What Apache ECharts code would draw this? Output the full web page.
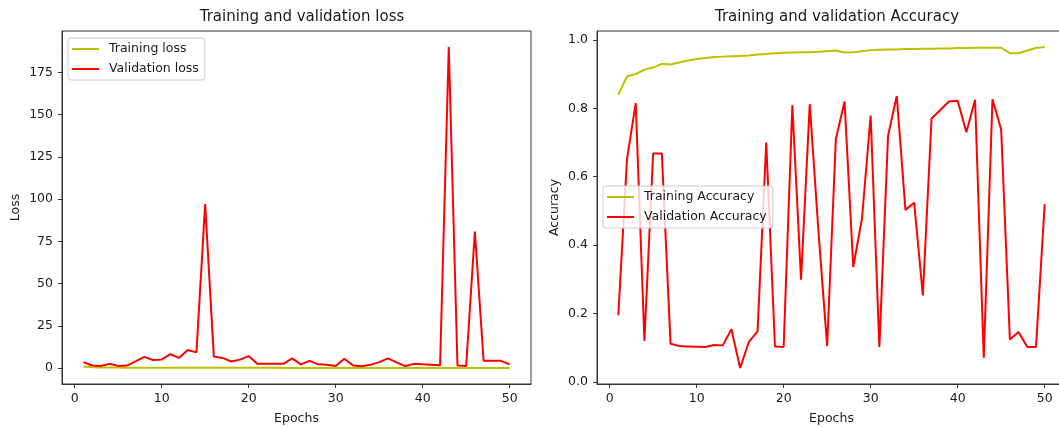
<!DOCTYPE html>
<html>
<head>
<meta charset="utf-8">
<script src="https://cdn.jsdelivr.net/npm/echarts@6/dist/echarts.min.js"></script>
<style>
  html, body { margin: 0; padding: 0; background: #fff; }
  #chart { width: 1059px; height: 427px; }
</style>
</head>
<body>
<div id="chart"></div>
<script>
var epochs = [];
for (var i = 1; i <= 50; i++) { epochs.push(i); }

var trainLoss = [0.9, 0.45, 0.35, 0.3, 0.27, 0.25, 0.23, 0.21, 0.2, 0.19,
  0.18, 0.17, 0.16, 0.16, 0.15, 0.15, 0.14, 0.14, 0.13, 0.13,
  0.12, 0.12, 0.12, 0.11, 0.11, 0.11, 0.11, 0.1, 0.1, 0.1,
  0.1, 0.09, 0.09, 0.09, 0.09, 0.09, 0.08, 0.08, 0.08, 0.08,
  0.08, 0.08, 0.07, 0.07, 0.07, 0.1, 0.09, 0.08, 0.07, 0.07];
var valLoss = [3.5, 1.5, 1.2, 2.5, 1.3, 1.5, 4.0, 6.6, 4.8, 5.0,
  8.2, 6.0, 10.7, 9.3, 97.0, 6.8, 6.0, 3.9, 5.0, 7.1,
  2.6, 2.5, 2.5, 2.5, 5.7, 2.2, 4.3, 2.2, 2.0, 1.2,
  5.5, 1.5, 1.1, 1.9, 3.5, 5.7, 3.4, 1.2, 2.5, 2.2,
  2.0, 1.6, 190.0, 1.5, 1.3, 80.8, 4.4, 4.4, 4.3, 2.2];
var trainAcc = [0.840, 0.893, 0.900, 0.913, 0.919, 0.930, 0.928, 0.934, 0.940, 0.944,
  0.947, 0.950, 0.951, 0.952, 0.953, 0.954, 0.957, 0.959, 0.961, 0.962,
  0.963, 0.964, 0.964, 0.965, 0.967, 0.969, 0.963, 0.964, 0.967, 0.970,
  0.971, 0.972, 0.972, 0.973, 0.973, 0.974, 0.974, 0.975, 0.975, 0.976,
  0.976, 0.977, 0.977, 0.977, 0.977, 0.961, 0.961, 0.969, 0.976, 0.979];
var valAcc = [0.195, 0.652, 0.815, 0.120, 0.668, 0.668, 0.112, 0.105, 0.104, 0.103,
  0.102, 0.108, 0.107, 0.154, 0.041, 0.117, 0.148, 0.700, 0.104, 0.102,
  0.809, 0.299, 0.812, 0.44, 0.105, 0.710, 0.820, 0.336, 0.477, 0.779,
  0.102, 0.720, 0.836, 0.503, 0.524, 0.253, 0.770, 0.795, 0.820, 0.822,
  0.730, 0.825, 0.071, 0.826, 0.738, 0.124, 0.146, 0.102, 0.102, 0.520];

var xTicks = [0, 10, 20, 30, 40, 50];
var lossTicks = [0, 25, 50, 75, 100, 125, 150, 175];
var accTicks = [0, 0.2, 0.4, 0.6, 0.8, 1.0];

var FONT = 'DejaVu Sans';
var INK = '#1a1a1a';
var FRAME = '#333';
var TRAIN_COLOR = '#bfbf00';
var VAL_COLOR = '#ff0000';
// plain line marker for the legend (tiny corner dots keep the 27x14 box)
var LINE_ICON = 'path://M0,0h0.01v0.01h-0.01zM0,6h27v2h-27zM26.99,13.99h0.01v0.01h-0.01z';

// matplotlib style 5% margins
function padded(arrs) {
  var all = [].concat.apply([], arrs);
  var lo = Math.min.apply(null, all), hi = Math.max.apply(null, all);
  var pad = (hi - lo) * 0.05;
  return [lo - pad, hi + pad];
}
function pairs(ys) {
  return epochs.map(function (e, k) { return [e, ys[k]]; });
}

var xRange = padded([epochs]);
var lossRange = padded([trainLoss, valLoss]);
var accRange = padded([trainAcc, valAcc]);

function xAxisFor(gi) {
  return {
    type: 'value', gridIndex: gi, min: xRange[0], max: xRange[1],
    name: 'Epochs', nameLocation: 'middle', nameGap: 28,
    nameTextStyle: { fontFamily: FONT, fontSize: 12.5, color: INK },
    axisLine: { show: true, onZero: false, lineStyle: { color: FRAME, width: 1 } },
    axisTick: { show: true, length: 4, lineStyle: { color: FRAME }, customValues: xTicks },
    axisLabel: { fontFamily: FONT, fontSize: 12.5, color: INK, margin: 8, customValues: xTicks },
    splitLine: { show: false }
  };
}
function yAxisFor(gi, name, range, ticks, gap, fmt) {
  return {
    type: 'value', gridIndex: gi, min: range[0], max: range[1],
    name: name, nameLocation: 'middle', nameGap: gap,
    nameTextStyle: { fontFamily: FONT, fontSize: 12.5, color: INK },
    axisLine: { show: true, onZero: false, lineStyle: { color: FRAME, width: 1 } },
    axisTick: { show: true, length: 4, lineStyle: { color: FRAME }, customValues: ticks },
    axisLabel: { fontFamily: FONT, fontSize: 12.5, color: INK, margin: 9, customValues: ticks, formatter: fmt },
    splitLine: { show: false }
  };
}
function legendFor(names, left, top) {
  return {
    data: names.map(function (n) { return { name: n, icon: LINE_ICON }; }),
    orient: 'vertical', left: left, top: top,
    padding: [4, 6, 4, 4], itemWidth: 27, itemHeight: 14, itemGap: 6,
    itemStyle: { borderWidth: 0 },
    backgroundColor: 'rgba(255,255,255,0.8)', borderColor: '#cccccc', borderWidth: 1, borderRadius: 3,
    textStyle: { fontFamily: FONT, fontSize: 12.5, color: INK, padding: [0, 0, 0, 5] },
    selectedMode: false
  };
}
function lineSeries(name, gi, ys, color) {
  return {
    type: 'line', name: name, xAxisIndex: gi, yAxisIndex: gi,
    data: pairs(ys), showSymbol: false,
    lineStyle: { color: color, width: 2 },
    itemStyle: { color: color }
  };
}
function gridAt(left) {
  return {
    left: left, top: 31, width: 469, height: 353,
    show: true, borderColor: FRAME, borderWidth: 1,
    containLabel: false, outerBoundsMode: 'none'
  };
}

var chart = echarts.init(document.getElementById('chart'), null, { renderer: 'canvas' });
chart.setOption({
  animation: false,
  backgroundColor: '#fff',
  title: [
    { text: 'Training and validation loss', left: 297, top: 5, textAlign: 'center',
      textStyle: { fontFamily: FONT, fontSize: 15, fontWeight: 'normal', color: INK } },
    { text: 'Training and validation Accuracy', left: 832, top: 5, textAlign: 'center',
      textStyle: { fontFamily: FONT, fontSize: 15, fontWeight: 'normal', color: INK } }
  ],
  grid: [gridAt(62), gridAt(597)],
  xAxis: [xAxisFor(0), xAxisFor(1)],
  yAxis: [
    yAxisFor(0, 'Loss', lossRange, lossTicks, 40, function (v) { return String(Math.round(v)); }),
    yAxisFor(1, 'Accuracy', accRange, accTicks, 36, function (v) { return v.toFixed(1); })
  ],
  legend: [
    legendFor(['Training loss', 'Validation loss'], 68, 38),
    legendFor(['Training Accuracy', 'Validation Accuracy'], 603, 186)
  ],
  series: [
    lineSeries('Training loss', 0, trainLoss, TRAIN_COLOR),
    lineSeries('Validation loss', 0, valLoss, VAL_COLOR),
    lineSeries('Training Accuracy', 1, trainAcc, TRAIN_COLOR),
    lineSeries('Validation Accuracy', 1, valAcc, VAL_COLOR)
  ]
});
</script>
</body>
</html>
